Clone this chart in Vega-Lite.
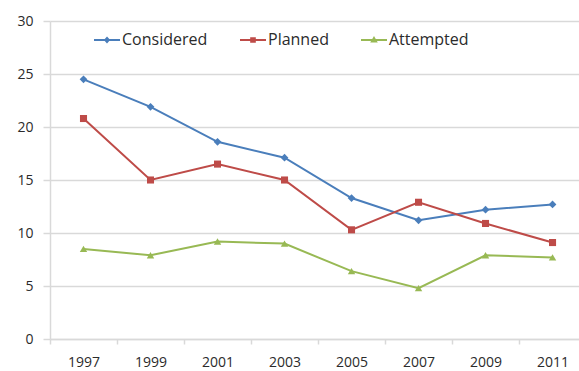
{
  "$schema": "https://vega.github.io/schema/vega-lite/v6.json",
  "width": 529,
  "height": 318,
  "autosize": {"type": "none"},
  "padding": {"left": 50, "top": 21, "right": 0, "bottom": 32},
  "background": "white",
  "config": {
    "view": {"stroke": null},
    "font": "Open Sans"
  },
  "data": {
    "values": [
      {"year": 1997, "series": "Considered", "value": 24.5},
      {"year": 1999, "series": "Considered", "value": 21.9},
      {"year": 2001, "series": "Considered", "value": 18.6},
      {"year": 2003, "series": "Considered", "value": 17.1},
      {"year": 2005, "series": "Considered", "value": 13.3},
      {"year": 2007, "series": "Considered", "value": 11.2},
      {"year": 2009, "series": "Considered", "value": 12.2},
      {"year": 2011, "series": "Considered", "value": 12.7},
      {"year": 1997, "series": "Planned", "value": 20.8},
      {"year": 1999, "series": "Planned", "value": 15.0},
      {"year": 2001, "series": "Planned", "value": 16.5},
      {"year": 2003, "series": "Planned", "value": 15.0},
      {"year": 2005, "series": "Planned", "value": 10.3},
      {"year": 2007, "series": "Planned", "value": 12.9},
      {"year": 2009, "series": "Planned", "value": 10.9},
      {"year": 2011, "series": "Planned", "value": 9.1},
      {"year": 1997, "series": "Attempted", "value": 8.5},
      {"year": 1999, "series": "Attempted", "value": 7.9},
      {"year": 2001, "series": "Attempted", "value": 9.2},
      {"year": 2003, "series": "Attempted", "value": 9.0},
      {"year": 2005, "series": "Attempted", "value": 6.4},
      {"year": 2007, "series": "Attempted", "value": 4.8},
      {"year": 2009, "series": "Attempted", "value": 7.9},
      {"year": 2011, "series": "Attempted", "value": 7.7}
    ]
  },
  "encoding": {
    "x": {
      "field": "year",
      "type": "quantitative",
      "scale": {"domain": [1996, 2011.79], "nice": false, "zero": false},
      "axis": {
        "title": null,
        "values": [1996, 1998, 2000, 2002, 2004, 2006, 2008, 2010],
        "labelExpr": "toString(datum.value + 1)",
        "labelOffset": 33.5,
        "labelFlush": false,
        "labelOverlap": false,
        "labelBound": false,
        "grid": false,
        "domainColor": "#d9d9d9",
        "domainWidth": 1.5,
        "tickColor": "#d9d9d9",
        "tickWidth": 1.5,
        "tickSize": 5,
        "labelPadding": 11,
        "labelFont": "Open Sans",
        "labelFontSize": 14,
        "labelColor": "#2b2b2b"
      }
    },
    "y": {
      "field": "value",
      "type": "quantitative",
      "scale": {"domain": [0, 30], "nice": false},
      "axis": {
        "title": null,
        "values": [0, 5, 10, 15, 20, 25, 30],
        "grid": true,
        "gridColor": "#d9d9d9",
        "gridWidth": 1.5,
        "domainColor": "#d9d9d9",
        "domainWidth": 1.5,
        "tickColor": "#d9d9d9",
        "tickWidth": 1.5,
        "tickSize": 7,
        "labelPadding": 10,
        "labelFont": "Open Sans",
        "labelFontSize": 14,
        "labelColor": "#2b2b2b"
      }
    },
    "color": {
      "field": "series",
      "type": "nominal",
      "scale": {
        "domain": ["Considered", "Planned", "Attempted"],
        "range": ["#4a7ebb", "#be4b48", "#98b954"]
      },
      "legend": {
        "title": null,
        "orient": "none",
        "legendX": 43,
        "legendY": 5,
        "direction": "horizontal",
        "symbolSize": 676,
        "symbolStrokeWidth": 2,
        "labelFont": "Open Sans",
        "labelFontSize": 16,
        "labelColor": "#2b2b2b",
        "labelOffset": 1,
        "columnPadding": 28,
        "encode": {
          "symbols": {
            "update": {
              "shape": {"signal": "datum.value === 'Considered' ? 'M-1,0H1M0,-0.16L0.14,0L0,0.16L-0.14,0Z' : datum.value === 'Planned' ? 'M-1,0H1M-0.14,-0.14H0.14V0.14H-0.14Z' : 'M-1,0H1M0,-0.16L0.16,0.12H-0.16Z'"},
              "fill": {"signal": "scale('color', datum.value)"},
              "stroke": {"signal": "scale('color', datum.value)"},
              "opacity": {"value": 1}
            }
          }
        }
      }
    }
  },
  "layer": [
    {"mark": {"type": "line", "strokeWidth": 2}},
    {
      "transform": [{"filter": "datum.series === 'Considered'"}],
      "mark": {"type": "point", "shape": "diamond", "filled": true, "size": 60, "opacity": 1}
    },
    {
      "transform": [{"filter": "datum.series === 'Planned'"}],
      "mark": {"type": "point", "shape": "square", "filled": true, "size": 50, "opacity": 1}
    },
    {
      "transform": [{"filter": "datum.series === 'Attempted'"}],
      "mark": {"type": "point", "shape": "triangle-up", "filled": true, "size": 55, "opacity": 1}
    }
  ]
}
